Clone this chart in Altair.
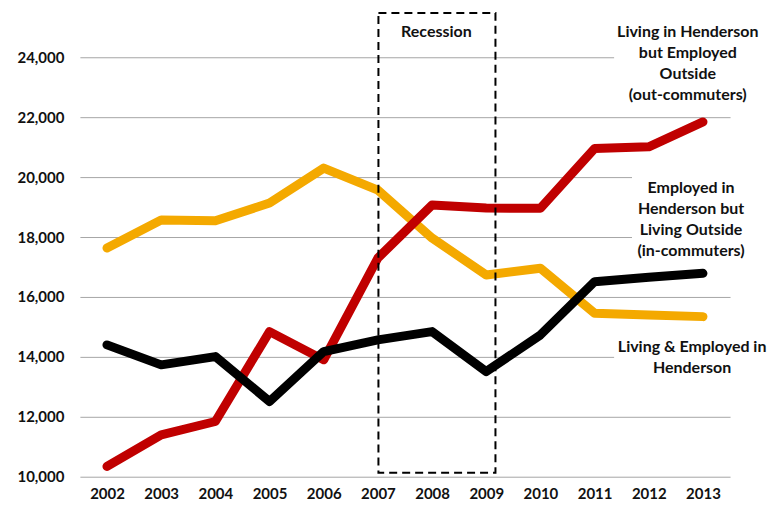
import altair as alt
import pandas as pd

years = list(range(2002, 2014))
out_commuters = [10343, 11400, 11843, 14843, 13900, 17300, 19067, 18967, 18957, 20957, 21010, 21843]
in_commuters = [14400, 13733, 14010, 12510, 14177, 14567, 14843, 13510, 14733, 16510, 16657, 16790]
living_employed = [17633, 18567, 18543, 19133, 20300, 19567, 17967, 16733, 16957, 15457, 15400, 15343]

series_names = ["Living & Employed in Henderson",
                "Living in Henderson but Employed Outside",
                "Employed in Henderson but Living Outside"]
series_values = [living_employed, out_commuters, in_commuters]
series_colors = ["#F4A900", "#C00000", "#000000"]

rows = []
for order, (name, vals) in enumerate(zip(series_names, series_values)):
    for yr, v in zip(years, vals):
        rows.append({"year": yr, "value": v, "series": name, "order": order})
df = pd.DataFrame(rows)

FONT = "Lato"
xscale = alt.Scale(domain=[2001.5, 2013.5], nice=False, zero=False)
yscale = alt.Scale(domain=[10000, 25500], nice=False, zero=False)

lines = alt.Chart(df).mark_line(strokeWidth=9, strokeCap="round", strokeJoin="round").encode(
    x=alt.X("year:Q", scale=xscale,
            axis=alt.Axis(values=years, format="d", title=None, grid=False, domain=False,
                          ticks=False, labelPadding=10, labelFontSize=15, labelFontWeight="bold",
                          labelColor="#111111", labelFont=FONT)),
    y=alt.Y("value:Q", scale=yscale,
            axis=alt.Axis(values=list(range(10000, 24001, 2000)), format=",d", title=None,
                          domain=False, ticks=False, labelPadding=16, labelFontSize=15,
                          labelFontWeight="bold", labelColor="#111111", labelFont=FONT,
                          gridColor="#a6a6a6", gridWidth=1)),
    color=alt.Color("series:N", scale=alt.Scale(domain=series_names, range=series_colors), legend=None),
    detail="series:N",
    order="order:Q",
)

# white backing boxes behind the labels (they hide the gridlines)
box_df = pd.DataFrame({
    "x1": [2011.36, 2011.69, 2011.36],
    "x2": [2014.2, 2014.2, 2014.2],
    "y1": [22400, 17050, 13250],
    "y2": [25300, 20250, 14700],
})
boxes = alt.Chart(box_df).mark_rect(fill="white", strokeWidth=0, clip=False).encode(
    x=alt.X("x1:Q", scale=xscale), x2="x2:Q",
    y=alt.Y("y1:Q", scale=yscale), y2="y2:Q",
)

labels_df = pd.DataFrame({
    "x": [2012.72, 2012.78, 2012.80],
    "y": [24833, 19633, 14333],
    "text": [["Living in Henderson", "but Employed", "Outside", "(out-commuters)"],
             ["Employed in", "Henderson but", "Living Outside", "(in-commuters)"],
             ["Living & Employed in", "Henderson"]],
})
labels = alt.Chart(labels_df).mark_text(font=FONT, fontSize=16, fontWeight="bold", color="#111111",
                                        align="center", baseline="middle", lineHeight=21, clip=False).encode(
    x=alt.X("x:Q", scale=xscale), y=alt.Y("y:Q", scale=yscale), text="text"
)

rec_df = pd.DataFrame({"x1": [2007.01], "x2": [2009.17], "y1": [10133], "y2": [25480],
                       "tx": [2008.08], "ty": [24833], "label": ["Recession"]})
rec_box = alt.Chart(rec_df).mark_rect(filled=False, stroke="black", strokeWidth=2,
                                      strokeDash=[8, 5]).encode(
    x=alt.X("x1:Q", scale=xscale), x2="x2:Q",
    y=alt.Y("y1:Q", scale=yscale), y2="y2:Q",
)
rec_text = alt.Chart(rec_df).mark_text(font=FONT, fontSize=16, fontWeight="bold", color="#111111",
                                       align="center", baseline="middle").encode(
    x=alt.X("tx:Q", scale=xscale), y=alt.Y("ty:Q", scale=yscale), text="label:N"
)

chart = alt.layer(boxes, lines, rec_box, rec_text, labels).properties(
    width=651, height=465,
    background="white",
    padding={"left": 72, "top": 4, "right": 40, "bottom": 28},
    autosize=alt.AutoSizeParams(type="none"),
).configure_view(stroke=None, strokeWidth=0)

chart.save("out.html", embed_options={"renderer": "svg", "actions": False})
